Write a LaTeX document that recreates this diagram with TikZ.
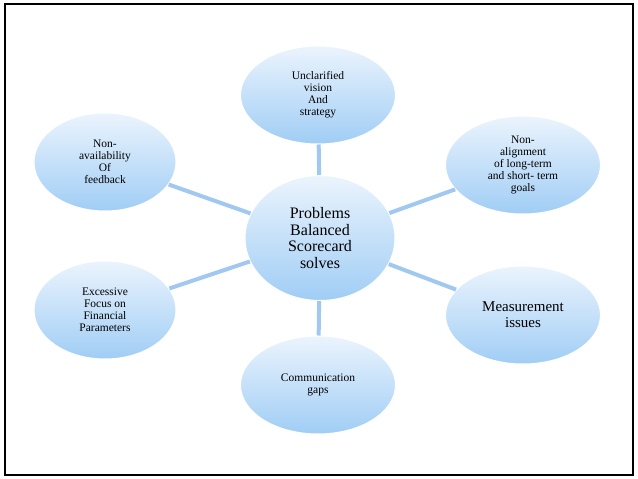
\documentclass[tikz,border=0pt]{standalone}
\usepackage{fontspec}
\setmainfont{Liberation Serif}
\usetikzlibrary{shapes,calc,positioning}
\definecolor{spoke}{RGB}{160,200,240}
\definecolor{bubbleedge}{RGB}{160,205,245}
\definecolor{bubbletop}{RGB}{235,244,253}
\begin{document}
\begin{tikzpicture}[x=1pt,y=-1pt]
	\tikzstyle{bubble}=[ellipse, minimum width=155pt, minimum height=98pt, draw=white, line width=1pt,
		shading angle=135, top color=bubbletop, bottom color=bubbleedge, align=center, font=\fontsize{11.5}{12}\selectfont]
	\tikzstyle{spokeline}=[line width=4pt, draw=spoke]
	\useasboundingbox (0,0) rectangle (638,479);
	\draw [line width=1.5pt] (5,4) rectangle (633,475);
	% outer bubbles
	\node [bubble] (vision) at (318,95) {Unclarified\\vision\\And\\strategy};
	\node [bubble, minimum width=142pt] (feedback) at (105,162) {Non-\\availability\\Of\\feedback};
	\node [bubble] (align) at (523,165) {Non-\\alignment\\of long-term\\and short- term\\goals};
	\node [bubble, minimum width=142pt] (financial) at (105,310) {Excessive\\Focus on\\Financial\\Parameters};
	\node [bubble, font=\fontsize{15}{16}\selectfont] (measure) at (523,315) {Measurement\\issues};
	\node [bubble] (comm) at (318,385) {Communication\\gaps};
	% centre
	\node [bubble, minimum width=150pt, minimum height=125pt, font=\fontsize{16}{16.5}\selectfont] (problems) at (320,238) {Problems\\Balanced\\Scorecard\\solves};
	% spokes
	\foreach \n in {vision,feedback,align,financial,measure,comm}
		\draw [spokeline] (problems) -- (\n);
\end{tikzpicture}
\end{document}
